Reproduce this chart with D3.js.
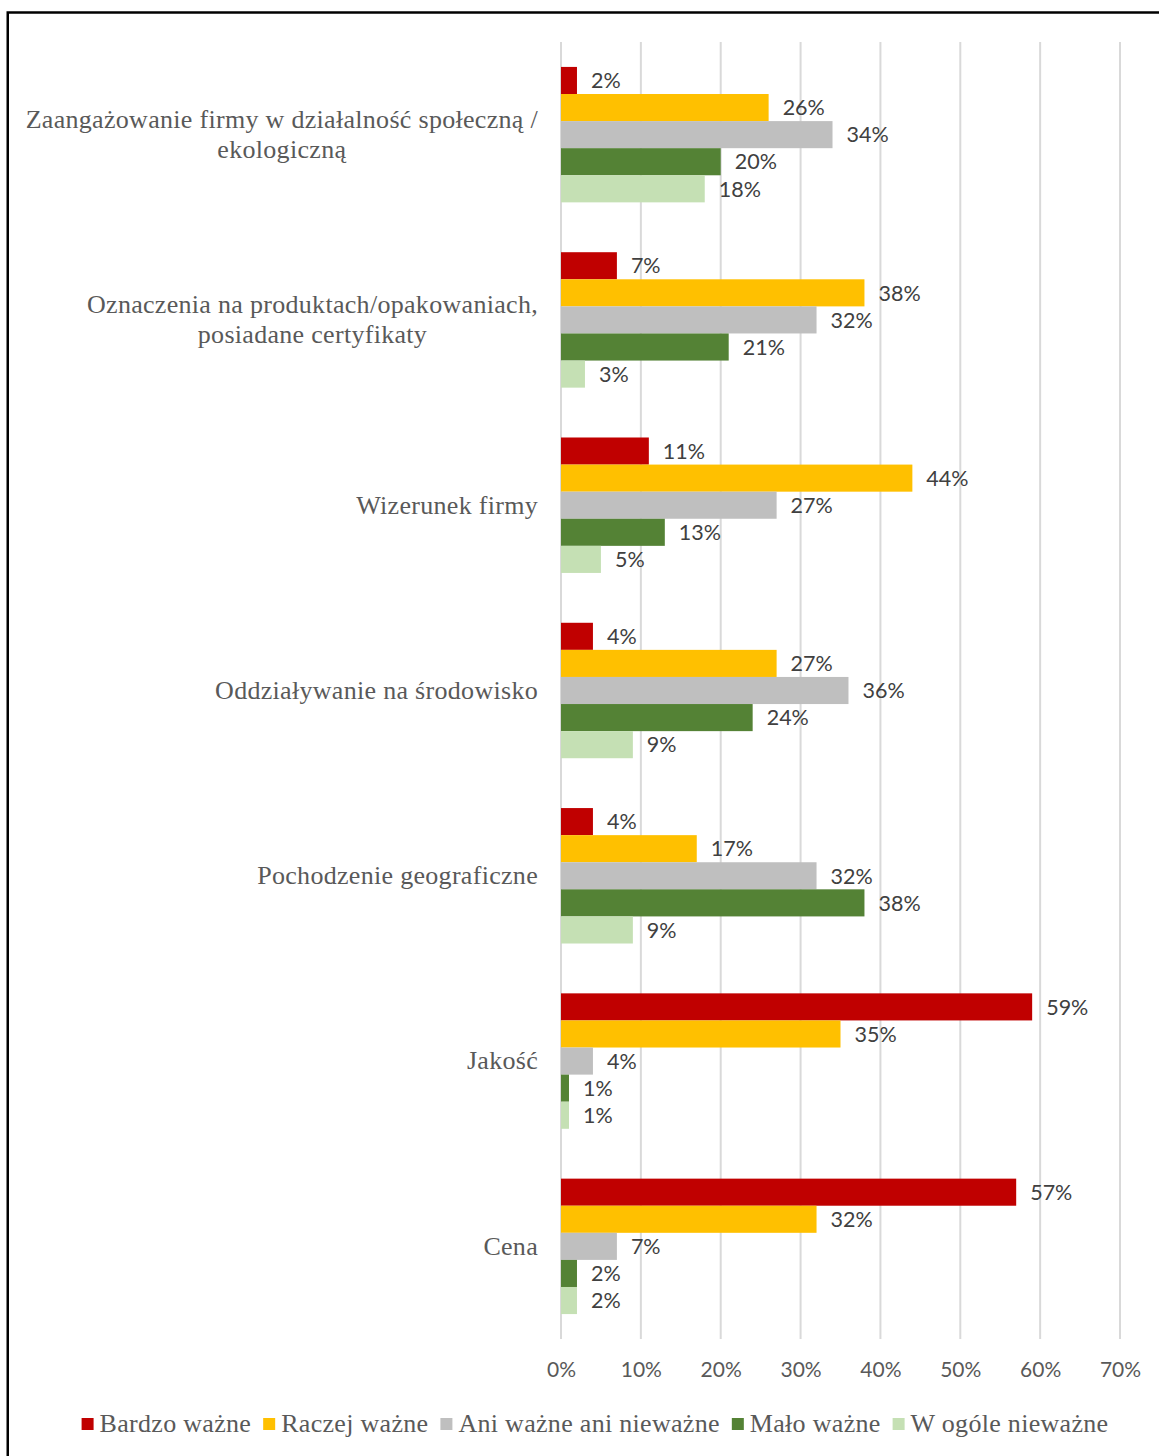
<!DOCTYPE html>
<html>
<head>
<meta charset="utf-8">
<script src="https://cdn.jsdelivr.net/npm/d3@7"></script>
<style>
  body { margin: 0; background: #fff; }
  svg { display: block; }
</style>
</head>
<body>
<svg id="chart" width="1159" height="1456"></svg>
<script>
// Categories (top to bottom); each label is split into its display lines
const categories = [
  "Zaangażowanie firmy w działalność społeczną / ekologiczną",
  "Oznaczenia na produktach/opakowaniach, posiadane certyfikaty",
  "Wizerunek firmy",
  "Oddziaływanie na środowisko",
  "Pochodzenie geograficzne",
  "Jakość",
  "Cena"
];
const categoryLines = [
  ["Zaangażowanie firmy w działalność społeczną /", "ekologiczną"],
  ["Oznaczenia na produktach/opakowaniach,", "posiadane certyfikaty"],
  ["Wizerunek firmy"],
  ["Oddziaływanie na środowisko"],
  ["Pochodzenie geograficzne"],
  ["Jakość"],
  ["Cena"]
];

const seriesNames = ["Bardzo ważne", "Raczej ważne", "Ani ważne ani nieważne", "Mało ważne", "W ogóle nieważne"];
const seriesColors = ["#C00000", "#FFC000", "#BFBFBF", "#548235", "#C5E0B4"];

// Percent of answers per category, one array per series
const bardzoWazne   = [2, 7, 11, 4, 4, 59, 57];
const raczejWazne   = [26, 38, 44, 27, 17, 35, 32];
const aniWazne      = [34, 32, 27, 36, 32, 4, 7];
const maloWazne     = [20, 21, 13, 24, 38, 1, 2];
const wOgoleNiewazne = [18, 3, 5, 9, 9, 1, 2];
const seriesValues = [bardzoWazne, raczejWazne, aniWazne, maloWazne, wOgoleNiewazne];

const tickValues = [0, 10, 20, 30, 40, 50, 60, 70];

const svg = d3.select("#chart");

// Outer frame
svg.append("rect")
  .attr("x", 7.75).attr("y", 12.5)
  .attr("width", 1250).attr("height", 1500)
  .attr("fill", "none").attr("stroke", "#000").attr("stroke-width", 2.5);

const plot = { left: 561, right: 1120, top: 42, bottom: 1339 };

const x = d3.scaleLinear().domain([0, 70]).range([plot.left, plot.right]);
const y0 = d3.scaleBand().domain(categories).range([plot.top, plot.bottom]);
const y1 = d3.scaleBand().domain(seriesNames).range([0, y0.bandwidth()]).paddingOuter(0.92);

// Vertical gridlines
svg.append("g")
  .selectAll("line")
  .data(tickValues)
  .join("line")
  .attr("x1", d => x(d)).attr("x2", d => x(d))
  .attr("y1", plot.top).attr("y2", plot.bottom)
  .attr("stroke", "#D9D9D9").attr("stroke-width", 2);

// Tick labels via axis
const xAxis = d3.axisBottom(x).tickValues(tickValues).tickFormat(d => d + "%").tickSize(0).tickPadding(0);
const axisG = svg.append("g").attr("transform", `translate(0, 1370)`).call(xAxis);
axisG.select(".domain").remove();
axisG.selectAll("text")
  .attr("y", 0).attr("dy", "0.35em")
  .attr("fill", "#595959")
  .style("font-family", "Lato, 'Open Sans', sans-serif")
  .style("font-size", "21px");

// Bars and value labels
const rows = [];
categories.forEach((c, ci) => {
  seriesNames.forEach((s, si) => {
    rows.push({ cat: c, series: s, value: seriesValues[si][ci], color: seriesColors[si] });
  });
});

const barG = svg.append("g");
barG.selectAll("rect")
  .data(rows)
  .join("rect")
  .attr("x", x(0))
  .attr("y", d => y0(d.cat) + y1(d.series))
  .attr("width", d => x(d.value) - x(0))
  .attr("height", y1.bandwidth())
  .attr("fill", d => d.color);

barG.selectAll("text")
  .data(rows)
  .join("text")
  .attr("x", d => x(d.value) + 14)
  .attr("y", d => y0(d.cat) + y1(d.series) + y1.bandwidth() / 2)
  .attr("dy", "0.36em")
  .attr("fill", "#404040")
  .style("font-family", "Lato, 'Open Sans', sans-serif")
  .style("font-size", "21.5px")
  .text(d => d.value + "%");

// Category labels: block right-aligned to the axis, lines centred on each other
const serif = "'Liberation Serif', 'DejaVu Serif', serif";
const lineH = 30;
const catG = svg.append("g");
categories.forEach((c, ci) => {
  const lines = categoryLines[ci];
  const g = catG.append("g");
  const texts = lines.map((ln, li) =>
    g.append("text")
      .attr("fill", "#595959")
      .style("font-family", serif)
      .style("font-size", "26px")
      .style("letter-spacing", "0.3px")
      .attr("text-anchor", "middle")
      .attr("dy", "0.32em")
      .text(ln)
  );
  const maxW = d3.max(texts, t => t.node().getComputedTextLength());
  const cx = 538 - maxW / 2;
  const cy = y0(c) + y0.bandwidth() / 2;
  texts.forEach((t, li) => {
    t.attr("x", cx).attr("y", cy + (li - (lines.length - 1) / 2) * lineH);
  });
});

// Legend, centred under the plot
const legG = svg.append("g");
const legY = 1424;
const items = seriesNames.map((s, i) => {
  const t = legG.append("text")
    .attr("fill", "#595959")
    .style("font-family", serif)
    .style("font-size", "26px")
    .style("letter-spacing", "0.3px")
    .attr("dy", "0.32em")
    .attr("y", legY)
    .text(s);
  return { t, w: t.node().getComputedTextLength(), color: seriesColors[i] };
});
const sq = 12, gapSq = 6, gapItem = 12;
const total = d3.sum(items, d => sq + gapSq + d.w) + gapItem * (items.length - 1);
let cursor = 595 - total / 2;
items.forEach(d => {
  legG.append("rect")
    .attr("x", cursor).attr("y", legY - sq / 2)
    .attr("width", sq).attr("height", sq)
    .attr("fill", d.color);
  d.t.attr("x", cursor + sq + gapSq);
  cursor += sq + gapSq + d.w + gapItem;
});
</script>
</body>
</html>
